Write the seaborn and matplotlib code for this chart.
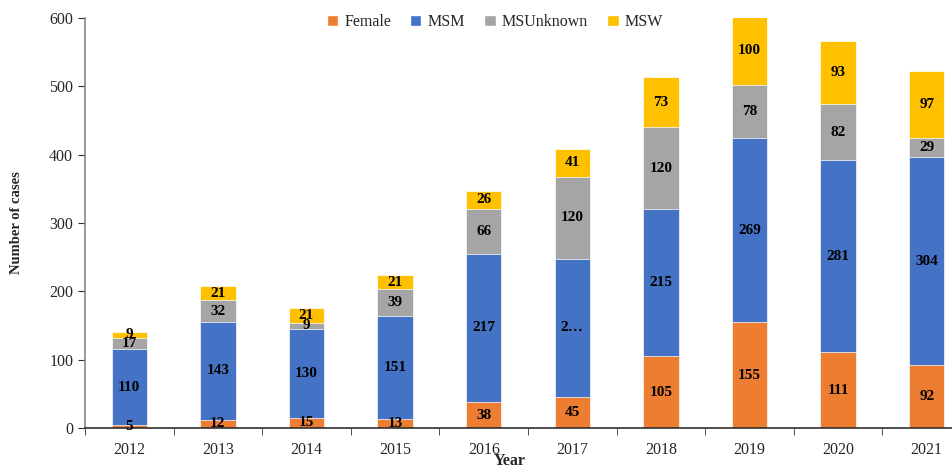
import numpy as np
import pandas as pd
import seaborn as sns
import matplotlib.pyplot as plt
from matplotlib.patches import Patch
from matplotlib.ticker import FixedLocator

sns.set_style("white")
plt.rcParams['font.family'] = ['Liberation Serif', 'DejaVu Serif']

# data
years = ['2012', '2013', '2014', '2015', '2016', '2017', '2018', '2019', '2020', '2021']
female = [5, 12, 15, 13, 38, 45, 105, 155, 111, 92]
msm = [110, 143, 130, 151, 217, 203, 215, 269, 281, 304]
msunknown = [17, 32, 9, 39, 66, 120, 120, 78, 82, 29]
msw = [9, 21, 21, 21, 26, 41, 73, 100, 93, 97]
# the 2017 MSM label is truncated in the original
msm_labels = ['110', '143', '130', '151', '217', '2\u2026', '215', '269', '281', '304']

groups = ['Female', 'MSM', 'MSUnknown', 'MSW']
colors = {'Female': '#ED7D31', 'MSM': '#4472C4', 'MSUnknown': '#A5A5A5', 'MSW': '#FFC000'}

df = pd.DataFrame({'Year': years, 'Female': female, 'MSM': msm,
                   'MSUnknown': msunknown, 'MSW': msw})
tops = df[groups].cumsum(axis=1)
bases = tops - df[groups]

fig = plt.figure(figsize=(9.53, 4.65), dpi=100)
ax = fig.add_axes([85 / 953, 37 / 465, 886 / 953, 410 / 465])

# draw stacked bars from the top layer down so each covers the one below
for g in reversed(groups):
    sns.barplot(x=df['Year'], y=tops[g], order=years, color=colors[g],
                width=0.4, edgecolor='white', linewidth=0.5, saturation=1, ax=ax)

labels = {'Female': [str(v) for v in female], 'MSM': msm_labels,
          'MSUnknown': [str(v) for v in msunknown], 'MSW': [str(v) for v in msw]}
for g in groups:
    for i in range(len(years)):
        mid = (bases[g][i] + tops[g][i]) / 2
        ax.text(i, mid, labels[g][i], ha='center', va='center',
                fontsize=11, fontweight='bold', color='black')

ax.set_ylim(0, 600)
ax.set_xlim(-0.5, len(years) - 0.5)
ax.set_yticks(np.arange(0, 601, 100))
ax.xaxis.set_minor_locator(FixedLocator(np.arange(-0.5, len(years), 1)))
ax.tick_params(axis='x', which='major', length=0, pad=10, labelsize=11.5)
ax.tick_params(axis='x', which='minor', length=5, direction='out', color='#303030', bottom=True)
ax.tick_params(axis='y', length=5, direction='out', color='#303030', labelsize=11.5, left=True)

sns.despine(ax=ax)
ax.spines['left'].set_color('#868686')
ax.spines['bottom'].set_color('#303030')
for s in ['left', 'bottom']:
    ax.spines[s].set_linewidth(1.2)

ax.set_xlabel('Year', fontsize=11.5, fontweight='bold')
ax.xaxis.set_label_coords((510 - 85) / 886, -0.06)
ax.set_ylabel('Number of cases', fontsize=10.5, fontweight='bold')
ax.yaxis.set_label_coords(-0.07, 0.5)

handles = [Patch(facecolor=colors[g], label=g) for g in groups]
fig.legend(handles=handles, loc='center', bbox_to_anchor=(495 / 953, 1 - 22 / 465),
           ncol=4, frameon=False, fontsize=11.5, handlelength=0.7, handleheight=0.7,
           handletextpad=0.4, columnspacing=1.2)

fig.savefig('out.png', dpi=100)
